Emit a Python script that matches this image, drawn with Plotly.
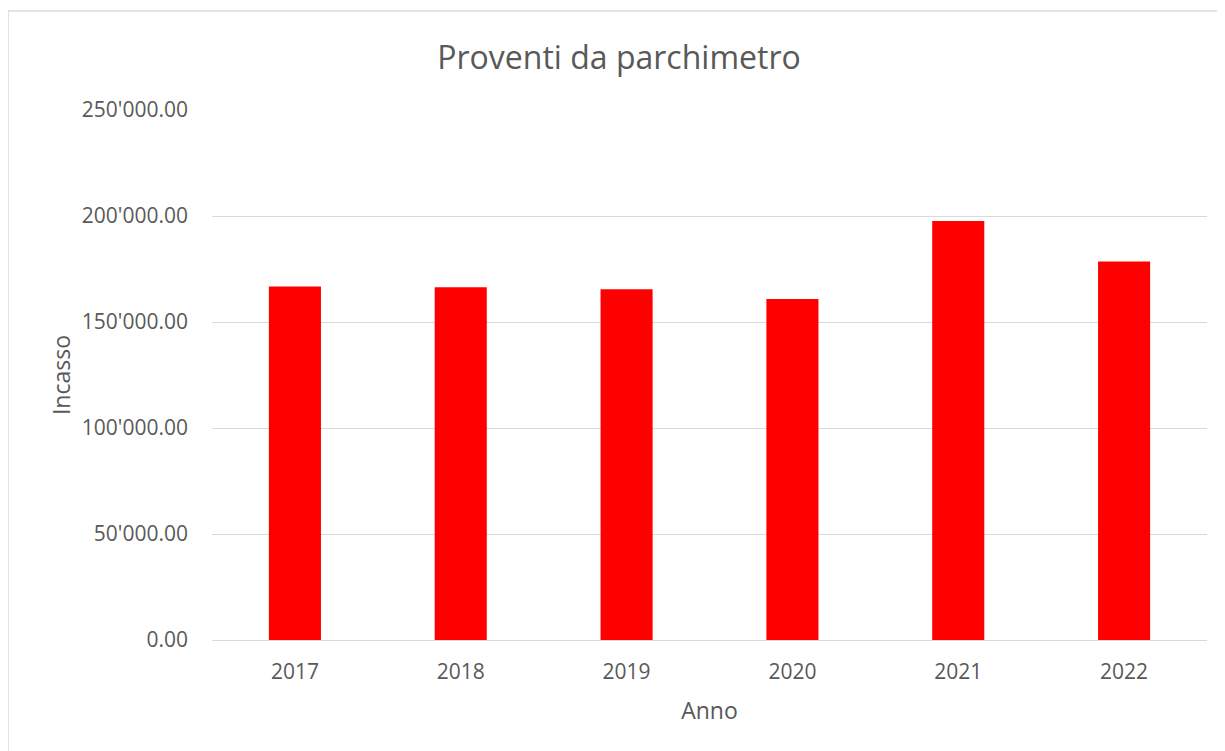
import plotly.graph_objects as go

years = ["2017", "2018", "2019", "2020", "2021", "2022"]
incasso = [166740, 166410, 165460, 160890, 197660, 178520]

# page has an 8px body margin; figure placed at (8, 8)
OFF = 8
W, H = 1225 - OFF, 751 - OFF
L, R, T, B = 212 - OFF, 18, 110 - OFF, 111
pw, ph = W - L - R, H - T - B

fig = go.Figure(go.Bar(x=years, y=incasso, marker=dict(color="#ff0000", line=dict(width=0)), width=0.314))

font = "Open Sans, Liberation Sans, sans-serif"
grey = "#595959"

fig.update_layout(
    width=W, height=H,
    margin=dict(l=L, r=R, t=T, b=B, autoexpand=False),
    paper_bgcolor="white", plot_bgcolor="white",
    separators=".'",
    showlegend=False,
    font=dict(family=font, color=grey, size=21),
    title=dict(text="Proventi da parchimetro", x=(619 - OFF) / W, xanchor="center",
               y=1 - (58 - OFF) / H, yanchor="middle", font=dict(size=32, color=grey, family=font)),
    xaxis=dict(showgrid=False, showline=True, linecolor="#d9d9d9", linewidth=1,
               ticks="", tickfont=dict(size=21, color=grey),
               title=dict(text="Anno", font=dict(size=23, color=grey), standoff=18)),
    yaxis=dict(range=[0, 250000], dtick=50000, tickformat=",.2f",
               showgrid=True, gridcolor="#d9d9d9", gridwidth=1.3,
               zeroline=False, showline=False, ticks="", ticklen=0,
               tickfont=dict(size=21, color=grey),
               title=dict(text="Incasso", font=dict(size=23, color=grey), standoff=4)),
)
fig.update_yaxes(ticklabelstandoff=23)
fig.update_xaxes(ticklabelstandoff=13)

# outer border (chart area frame)
x0 = (8 - OFF - L) / pw
x1 = (1240 - OFF - L) / pw
y1 = 1 + (T - (11 - OFF)) / ph
y0 = -(B + 30) / ph
fig.add_shape(type="rect", xref="paper", yref="paper", x0=x0, x1=x1, y0=y0, y1=y1,
              line=dict(color="#d9d9d9", width=1.5), fillcolor="rgba(0,0,0,0)", layer="below")

fig.write_html("out.html")
